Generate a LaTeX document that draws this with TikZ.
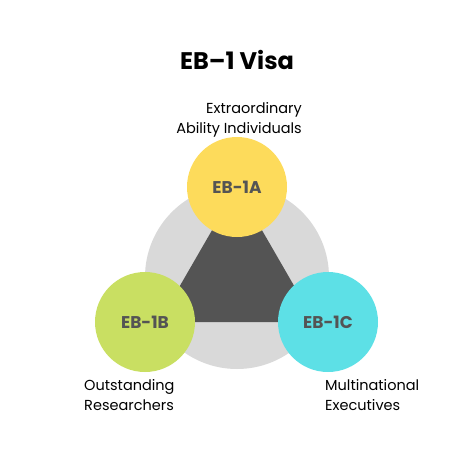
\documentclass[tikz,border=0pt]{standalone}
\usepackage{fontspec}
\setmainfont{Poppins}
\usepackage{xcolor}
\usepackage{tikz}
\usetikzlibrary{positioning}

\definecolor{ringGray}{HTML}{D9D9D9}
\definecolor{coreGray}{HTML}{545454}
\definecolor{aYellow}{HTML}{FDDB5B}
\definecolor{bGreen}{HTML}{C9DF62}
\definecolor{cCyan}{HTML}{5DE0E6}

\begin{document}
\begin{tikzpicture}[
    x=1pt, y=-1pt,
    % Circles of the three categories
    visa/.style={circle, minimum size=100pt, inner sep=0pt, text=coreGray,
        font=\bfseries\fontsize{17}{20}\selectfont},
    % Captions beside the circles
    caption/.style={inner sep=0pt, font=\fontsize{14.5}{20}\selectfont}
]
\useasboundingbox (0,0) rectangle (474,474);

% Title
\node[font=\bfseries\fontsize{24}{28}\selectfont] (title) at (237,60) {EB–1 Visa};

% Grey ring and dark core
\node[circle, fill=ringGray, minimum size=184pt] (ring) at (237,277) {};
\fill[coreGray] (237,187) -- (159,322) -- (315,322) -- cycle;

% The three circles
\node[visa, fill=aYellow] (eb1a) at (237,187) {EB-1A};
\node[visa, fill=bGreen]  (eb1b) at (145,322) {EB-1B};
\node[visa, fill=cCyan]   (eb1c) at (328,322) {EB-1C};

% Captions
\node[caption, align=right, anchor=south east] (capA) at (302,137)
    {Extraordinary\\Ability Individuals};
\node[caption, align=left, anchor=north west] (capB) at (84,379)
    {Outstanding\\Researchers};
\node[caption, align=left, anchor=north west] (capC) at (325,379)
    {Multinational\\Executives};

\end{tikzpicture}
\end{document}
